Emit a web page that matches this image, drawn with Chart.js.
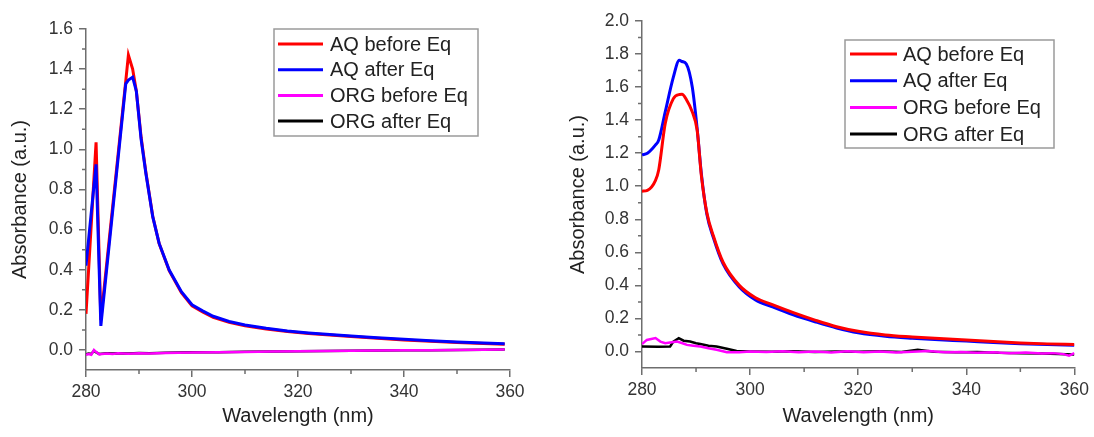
<!DOCTYPE html>
<html>
<head>
<meta charset="utf-8">
<title>Absorbance spectra</title>
<script src="https://cdn.jsdelivr.net/npm/chart.js@4.4.1/dist/chart.umd.min.js"></script>
<style>
  body { margin: 0; background: #fff; }
  .panel { position: absolute; top: 0; width: 547px; height: 437px; }
</style>
</head>
<body>
<div class="panel" style="left:0"><canvas id="chartA" width="547" height="437"></canvas></div>
<div class="panel" style="left:547px"><canvas id="chartB" width="547" height="437"></canvas></div>
<script>
const seriesNames = ['AQ before Eq', 'AQ after Eq', 'ORG before Eq', 'ORG after Eq'];
const seriesColors = ['#ff0000', '#0000ff', '#ff00ff', '#000000'];
const xTicks = [280, 300, 320, 340, 360];
const yTicksA = [0, 0.2, 0.4, 0.6, 0.8, 1.0, 1.2, 1.4, 1.6];
const yTicksB = [0, 0.2, 0.4, 0.6, 0.8, 1.0, 1.2, 1.4, 1.6, 1.8, 2.0];

// left panel
const aqWaveA = [280, 281.9, 282.8, 287.5, 288, 288.8, 289.5, 290.4, 291.3, 292.6, 293.8, 295.7, 298, 300, 302, 304, 307, 310, 314, 318, 322, 326, 330, 335, 340, 345, 350, 355, 359];
const aqBeforeA = [0.18, 1.035, 0.15, 1.34, 1.47, 1.40, 1.29, 1.06, 0.885, 0.665, 0.53, 0.395, 0.285, 0.22, 0.19, 0.163, 0.138, 0.12, 0.104, 0.092, 0.082, 0.074, 0.067, 0.058, 0.05, 0.043, 0.037, 0.032, 0.028];
const aqAfterA = [0.42, 0.925, 0.12, 1.327, 1.345, 1.36, 1.29, 1.05, 0.88, 0.663, 0.531, 0.398, 0.29, 0.225, 0.195, 0.168, 0.142, 0.124, 0.108, 0.095, 0.085, 0.077, 0.07, 0.061, 0.053, 0.046, 0.04, 0.035, 0.031];
const orgWaveA = [280, 280.5, 281, 281.5, 282, 282.5, 283, 284, 285, 286, 288, 290, 292, 295, 300, 305, 310, 315, 320, 325, 330, 335, 340, 345, 350, 355, 359];
const orgBeforeA = [-0.025, -0.02, -0.024, 0.0, -0.012, -0.022, -0.02, -0.018, -0.02, -0.017, -0.019, -0.016, -0.018, -0.015, -0.013, -0.012, -0.01, -0.008, -0.007, -0.005, -0.004, -0.003, -0.002, -0.001, 0.0, 0.001, 0.002];
const orgAfterA = [-0.022, -0.018, -0.02, -0.004, -0.014, -0.02, -0.019, -0.017, -0.018, -0.016, -0.018, -0.015, -0.017, -0.014, -0.012, -0.011, -0.009, -0.008, -0.006, -0.005, -0.004, -0.003, -0.002, -0.001, 0.0, 0.001, 0.002];

// right panel
const aqWaveB = [280, 281, 282.5, 283.1, 284.3, 285.8, 286.9, 287.4, 288.2, 289.3, 290.2, 291, 292, 293.2, 295, 298, 301, 304, 308, 312, 316, 320, 325, 330, 335, 340, 345, 350, 355, 360];
const aqBeforeB = [0.97, 0.975, 1.035, 1.10, 1.38, 1.53, 1.555, 1.556, 1.525, 1.45, 1.34, 1.06, 0.84, 0.70, 0.54, 0.40, 0.325, 0.285, 0.235, 0.19, 0.15, 0.122, 0.1, 0.088, 0.078, 0.07, 0.06, 0.052, 0.046, 0.042];
const aqAfterB = [1.19, 1.2, 1.25, 1.28, 1.45, 1.66, 1.763, 1.755, 1.74, 1.60, 1.35, 1.07, 0.83, 0.69, 0.53, 0.39, 0.312, 0.272, 0.222, 0.18, 0.142, 0.113, 0.092, 0.08, 0.071, 0.063, 0.054, 0.047, 0.042, 0.038];
const orgBeforeWaveB = [280, 280.9, 282.5, 283.4, 284.3, 285.2, 286.5, 287.5, 288.3, 289.5, 290.8, 292.3, 293.8, 295.7, 298, 300, 303, 306, 309, 312, 315, 318, 321, 324, 327, 330, 333, 336, 339, 342, 345, 348, 351, 354, 356, 358, 359, 360];
const orgBeforeB = [0.045, 0.07, 0.081, 0.06, 0.05, 0.054, 0.06, 0.05, 0.04, 0.035, 0.03, 0.02, 0.01, -0.005, -0.005, 0.0, -0.003, 0.002, -0.004, 0.0, -0.006, 0.001, -0.004, 0.0, -0.006, -0.002, 0.003, -0.005, -0.003, -0.007, -0.004, -0.01, -0.006, -0.012, -0.01, -0.016, -0.025, -0.01];
const orgAfterWaveB = [280, 283, 285.2, 285.8, 286.8, 287.7, 288.9, 290, 290.8, 292.3, 293.8, 295.7, 297.5, 300, 304, 308, 312, 316, 320, 324, 328, 331, 334, 338, 342, 346, 350, 354, 357, 360];
const orgAfterB = [0.03, 0.028, 0.03, 0.06, 0.08, 0.065, 0.06, 0.05, 0.045, 0.035, 0.03, 0.016, 0.003, 0.0, -0.002, 0.001, -0.003, 0.0, -0.002, 0.001, -0.003, 0.01, -0.002, -0.004, -0.003, -0.008, -0.01, -0.012, -0.015, -0.018];

const axisColor = '#6e6e6e';
const textColor = '#333';
Chart.defaults.font.family = '"Liberation Sans", Arial, sans-serif';

function toPoints(xs, ys) {
    return xs.map((x, i) => ({ x: x, y: ys[i] }));
}

// short ticks halfway between the labelled ones
const minorTicks = {
    id: 'minorTicks',
    afterDraw(chart) {
        const { ctx, scales: { x, y } } = chart;
        ctx.save();
        ctx.strokeStyle = axisColor;
        ctx.lineWidth = 1.5;
        ctx.beginPath();
        for (let i = 1; i < x.ticks.length; i++) {
            const px = x.getPixelForValue((x.ticks[i - 1].value + x.ticks[i].value) / 2);
            ctx.moveTo(px, x.top);
            ctx.lineTo(px, x.top + 4);
        }
        for (let i = 1; i < y.ticks.length; i++) {
            const py = y.getPixelForValue((y.ticks[i - 1].value + y.ticks[i].value) / 2);
            ctx.moveTo(y.right - 4, py);
            ctx.lineTo(y.right, py);
        }
        ctx.stroke();
        ctx.restore();
    }
};

// framed legend sitting inside the plot
const boxLegend = {
    id: 'boxLegend',
    afterDraw(chart, args, opts) {
        const ctx = chart.ctx;
        ctx.save();
        ctx.strokeStyle = '#9a9a9a';
        ctx.lineWidth = 1.5;
        ctx.strokeRect(opts.x, opts.y, opts.w, opts.h);
        ctx.font = '20px "Liberation Sans", Arial, sans-serif';
        ctx.textBaseline = 'middle';
        chart.data.datasets.forEach((ds, i) => {
            const ly = opts.y + opts.first + i * opts.step;
            ctx.strokeStyle = ds.borderColor;
            ctx.lineWidth = 3;
            ctx.beginPath();
            ctx.moveTo(opts.x + opts.lineStart, ly);
            ctx.lineTo(opts.x + opts.lineEnd, ly);
            ctx.stroke();
            ctx.fillStyle = '#222';
            ctx.fillText(ds.label, opts.x + opts.textX, ly + 1);
        });
        ctx.restore();
    }
};

function makeDataset(i, points, order, width, smooth) {
    return {
        label: seriesNames[i],
        data: points,
        borderColor: seriesColors[i],
        backgroundColor: seriesColors[i],
        borderWidth: width,
        pointRadius: 0,
        tension: 0,
        cubicInterpolationMode: smooth ? 'monotone' : 'default',
        order: order
    };
}

function buildChart(id, cfg) {
    const ctx = document.getElementById(id).getContext('2d');
    return new Chart(ctx, {
        type: 'line',
        data: { datasets: cfg.datasets },
        options: {
            responsive: false,
            animation: false,
            parsing: true,
            layout: { padding: { top: cfg.top, right: cfg.right, left: 0, bottom: 0 } },
            plugins: {
                legend: { display: false },
                tooltip: { enabled: false },
                boxLegend: cfg.legend
            },
            scales: {
                x: {
                    type: 'linear',
                    min: 280,
                    max: 360,
                    afterBuildTicks: s => { s.ticks = xTicks.map(v => ({ value: v })); },
                    afterFit: s => { s.height = cfg.xHeight; },
                    ticks: { color: textColor, font: { size: 17.5 }, padding: 5, maxRotation: 0 },
                    grid: { drawOnChartArea: false, tickLength: 7, color: axisColor, lineWidth: 1.5 },
                    border: { color: axisColor, width: 1.5 },
                    title: { display: true, text: 'Wavelength (nm)', color: '#222', font: { size: 20 }, padding: { top: 0, bottom: 9 } }
                },
                y: {
                    min: -0.1,
                    max: cfg.yMax,
                    afterBuildTicks: s => { s.ticks = cfg.yTicks.map(v => ({ value: v })); },
                    afterFit: s => { s.width = cfg.yWidth; },
                    ticks: { color: textColor, font: { size: 17.5 }, padding: 6, callback: v => v.toFixed(1) },
                    grid: { drawOnChartArea: false, tickLength: 7, color: axisColor, lineWidth: 1.5 },
                    border: { color: axisColor, width: 1.5 },
                    title: { display: true, text: 'Absorbance (a.u.)', color: '#222', font: { size: 20 }, padding: { top: cfg.yTitlePad, bottom: 0 } }
                }
            }
        },
        plugins: [minorTicks, boxLegend]
    });
}

buildChart('chartA', {
    top: 29, right: 37, xHeight: 67, yWidth: 86, yTitlePad: 8,
    yMax: 1.6, yTicks: yTicksA,
    legend: { x: 274, y: 29, w: 204, h: 107, first: 15, step: 25.7, lineStart: 4, lineEnd: 49, textX: 56 },
    datasets: [
        makeDataset(0, toPoints(aqWaveA, aqBeforeA), 1, 3, false),
        makeDataset(1, toPoints(aqWaveA, aqAfterA), 0, 3, false),
        makeDataset(2, toPoints(orgWaveA, orgBeforeA), 2, 2.5, false),
        makeDataset(3, toPoints(orgWaveA, orgAfterA), 3, 2.5, false)
    ]
});

buildChart('chartB', {
    top: 21, right: 19, xHeight: 69, yWidth: 95, yTitlePad: 19,
    yMax: 2.0, yTicks: yTicksB,
    legend: { x: 298, y: 40, w: 209, h: 108, first: 14, step: 26.7, lineStart: 5, lineEnd: 52, textX: 58 },
    datasets: [
        makeDataset(0, toPoints(aqWaveB, aqBeforeB), 0, 3, true),
        makeDataset(1, toPoints(aqWaveB, aqAfterB), 1, 3, true),
        makeDataset(2, toPoints(orgBeforeWaveB, orgBeforeB), 2, 2.5, false),
        makeDataset(3, toPoints(orgAfterWaveB, orgAfterB), 3, 2.5, false)
    ]
});
</script>
</body>
</html>
